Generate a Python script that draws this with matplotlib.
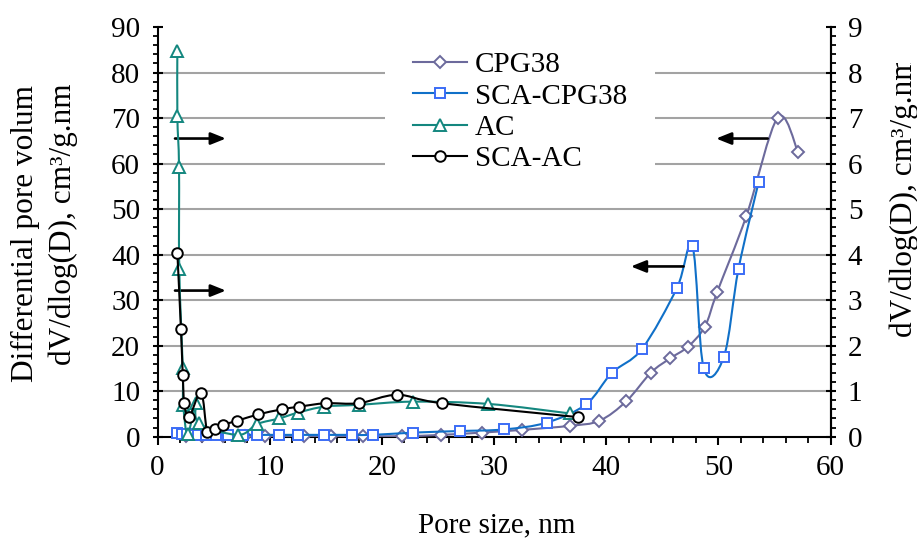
import numpy as np
import matplotlib
matplotlib.use("Agg")
import matplotlib.pyplot as plt
from matplotlib.path import Path
from matplotlib.patches import PathPatch
from matplotlib.lines import Line2D
from matplotlib.transforms import Bbox, TransformedBbox
from matplotlib.ticker import MultipleLocator

# ---------------- data ----------------
# CPG38 and SCA-CPG38 are read on the left axis, AC and SCA-AC on the right axis
cpg38_x = [2.5, 4.0, 5.8, 7.8, 9.6, 13.1, 15.5, 18.3, 21.8, 25.3, 28.9, 32.5, 36.8,
           39.4, 41.8, 44.0, 45.7, 47.3, 48.8, 49.9, 52.5, 55.3, 57.1]
cpg38_y = [0.1, 0.1, 0.1, 0.1, 0.1, 0.1, 0.1, 0.1, 0.1, 0.4, 0.9, 1.5, 2.4,
           3.5, 7.8, 14.1, 17.2, 19.8, 24.2, 31.8, 48.5, 70.1, 62.6]

sca_cpg38_x = [1.77, 2.2, 2.66, 3.1, 3.6, 4.3, 5.2, 6.3, 7.6, 8.9, 10.85, 12.55, 14.8,
               17.3, 19.2, 22.8, 27.0, 30.9, 34.7, 38.2, 40.5, 43.2, 46.3, 47.7,
               48.7, 50.5, 51.8, 53.6]
sca_cpg38_y = [0.8, 0.6, 0.5, 0.4, 0.4, 0.4, 0.4, 0.4, 0.4, 0.4, 0.4, 0.4, 0.4,
               0.4, 0.4, 0.9, 1.25, 1.6, 3.1, 7.1, 14.0, 19.3, 32.6, 41.8,
               15.0, 17.6, 36.9, 56.0]

ac_x = [1.77, 1.77, 1.92, 1.94, 2.25, 2.30, 2.69, 3.40, 3.70, 7.2, 8.9, 10.83,
        12.55, 14.87, 17.96, 22.8, 29.5, 36.8]
ac_y = [8.48, 7.04, 5.93, 3.69, 1.51, 0.70, 0.05, 0.74, 0.29, 0.04, 0.28, 0.40,
        0.53, 0.66, 0.70, 0.77, 0.72, 0.51]

sca_ac_x = [1.77, 2.09, 2.25, 2.39, 2.81, 3.88, 4.44, 5.15, 5.86, 7.11, 8.98, 11.07,
            12.64, 15.02, 17.96, 21.37, 25.36, 37.5]
sca_ac_y = [4.04, 2.37, 1.36, 0.73, 0.43, 0.97, 0.11, 0.17, 0.26, 0.35, 0.49, 0.60,
            0.66, 0.735, 0.735, 0.92, 0.735, 0.43]

x_ticks = [0, 10, 20, 30, 40, 50, 60]
left_ticks = [0, 10, 20, 30, 40, 50, 60, 70, 80, 90]
right_ticks = [0, 1, 2, 3, 4, 5, 6, 7, 8, 9]

labels = ["CPG38", "SCA-CPG38", "AC", "SCA-AC"]

# ---------------- style ----------------
plt.rcParams["font.family"] = ["Liberation Serif", "DejaVu Serif"]
FS = 21
FS_TITLE = 22.5

W, H, DPI = 917, 541, 100
fig = plt.figure(figsize=(W / DPI, H / DPI), dpi=DPI)
fig.patch.set_facecolor("white")

ax = fig.add_axes([157.5 / W, 1 - 436.7 / H, (830.5 - 157.5) / W, (436.7 - 27.0) / H])
ax2 = ax.twinx()


def smooth_path(x, y, t=1.0 / 6.0):
    """Cubic Bezier path through the points (Catmull-Rom style smoothing)."""
    p = np.column_stack([x, y]).astype(float)
    verts = [p[0]]
    codes = [Path.MOVETO]
    n = len(p)
    for i in range(n - 1):
        p0 = p[i - 1] if i > 0 else p[i]
        p1, p2 = p[i], p[i + 1]
        p3 = p[i + 2] if i + 2 < n else p[i + 1]
        verts += [p1 + (p2 - p0) * t, p2 - (p3 - p1) * t, p2]
        codes += [Path.CURVE4] * 3
    return Path(verts, codes)


def series(a, x, y, line_color, marker, ms, edge_color, z):
    a.add_patch(PathPatch(smooth_path(x, y), facecolor="none", edgecolor=line_color,
                          lw=1.5, zorder=z, capstyle="round", joinstyle="round"))
    a.plot(x, y, linestyle="none", marker=marker, ms=ms, mfc="white",
           mec=edge_color, mew=1.4, zorder=z + 0.1, clip_on=False)
    return Line2D([], [], color=line_color, lw=1.5, marker=marker, ms=ms,
                  mfc="white", mec=edge_color, mew=1.4)


c_cpg = "#6c6a9c"
c_sca_cpg_line, c_sca_cpg_mk = "#1070c8", "#3b6cf6"
c_ac = "#14877f"
c_sca_ac = "#000000"

h1 = series(ax, cpg38_x, cpg38_y, c_cpg, "D", 6.5, c_cpg, 3)
h2 = series(ax, sca_cpg38_x, sca_cpg38_y, c_sca_cpg_line, "s", 7.2, c_sca_cpg_mk, 4)
h3 = series(ax2, ac_x, ac_y, c_ac, "^", 8.5, c_ac, 3)
h4 = series(ax2, sca_ac_x, sca_ac_y, c_sca_ac, "o", 7.6, c_sca_ac, 4)

# horizontal grid at the inner major ticks of the left axis
ax.hlines(left_ticks[1:-1], x_ticks[0], x_ticks[-1], colors="#a3a3a3", lw=1.5, zorder=0.5)

# axes limits and ticks
ax.set_xlim(x_ticks[0], x_ticks[-1])
ax.set_ylim(left_ticks[0], left_ticks[-1])
ax2.set_ylim(right_ticks[0], right_ticks[-1])
ax.set_xticks(x_ticks)
ax.set_yticks(left_ticks)
ax2.set_yticks(right_ticks)
ax.xaxis.set_minor_locator(MultipleLocator(2))
ax.yaxis.set_minor_locator(MultipleLocator(2))
ax2.yaxis.set_minor_locator(MultipleLocator(0.2))

ax.tick_params(axis="x", which="major", direction="out", length=6, width=1.5,
               labelsize=FS, pad=7)
ax.tick_params(axis="x", which="minor", direction="out", length=4, width=1.3)
ax.tick_params(axis="y", which="major", direction="inout", length=7, width=1.5,
               labelsize=FS, pad=9)
ax.tick_params(axis="y", which="minor", direction="out", length=3.5, width=1.3)
ax2.tick_params(axis="y", which="major", direction="inout", length=7, width=1.5,
                labelsize=FS, pad=9)
ax2.tick_params(axis="y", which="minor", direction="out", length=3.5, width=1.3)

for a in (ax, ax2):
    a.spines["top"].set_visible(False)
    for s in ("left", "right", "bottom"):
        a.spines[s].set_linewidth(1.5)
ax2.spines["left"].set_visible(False)
ax2.spines["bottom"].set_visible(False)
ax.set_facecolor("none")

# direction arrows telling which axis each pair of curves uses
arrow_kw = dict(arrowstyle="-|>,head_length=0.9,head_width=0.36", color="black",
                lw=1.9, shrinkA=0, shrinkB=0, mutation_scale=10)
for (x0, x1, yy) in [(1.56, 6.1, 65.5), (1.56, 6.1, 32.1), (54.4, 49.8, 65.5), (46.9, 42.2, 37.4)]:
    ax.annotate("", xy=(x1, yy), xytext=(x0, yy), xycoords="data",
                arrowprops=arrow_kw, zorder=6)

# legend
leg = ax2.legend([h1, h2, h3, h4], labels, loc="upper left",
                 bbox_to_anchor=(385 / W, 1 - 24 / H), bbox_transform=fig.transFigure,
                 frameon=True, fancybox=False, edgecolor="none", facecolor="white",
                 framealpha=1, borderpad=0.95, borderaxespad=0, handlelength=1.85,
                 handletextpad=0.27, labelspacing=0.17, fontsize=FS)
leg.set_zorder(10)

# axis titles (the vertical ones are cut off at the top of their title boxes)
fig.text(497 / W, 1 - 525 / H, "Pore size, nm", ha="center", va="center", fontsize=FS)

clip_left = TransformedBbox(Bbox([[0, 0], [1, 1 - 85 / H]]), fig.transFigure)
for xp, yp, txt in [(25, 227, "Differential pore volume"),
                    (63, 224, "dV/dlog(D), cm\u00b3/g.nm")]:
    t = fig.text(xp / W, 1 - yp / H, txt, rotation=90, ha="center", va="center",
                 fontsize=FS_TITLE)
    t.set_clip_box(clip_left)
    t.set_clip_on(True)

clip_right = TransformedBbox(Bbox([[0, 0], [1, 1 - 63 / H]]), fig.transFigure)
t = fig.text(904 / W, 1 - 196 / H, "dV/dlog(D), cm\u00b3/g.nm", rotation=90,
             ha="center", va="center", fontsize=FS_TITLE)
t.set_clip_box(clip_right)
t.set_clip_on(True)

fig.savefig("out.png", dpi=DPI)
